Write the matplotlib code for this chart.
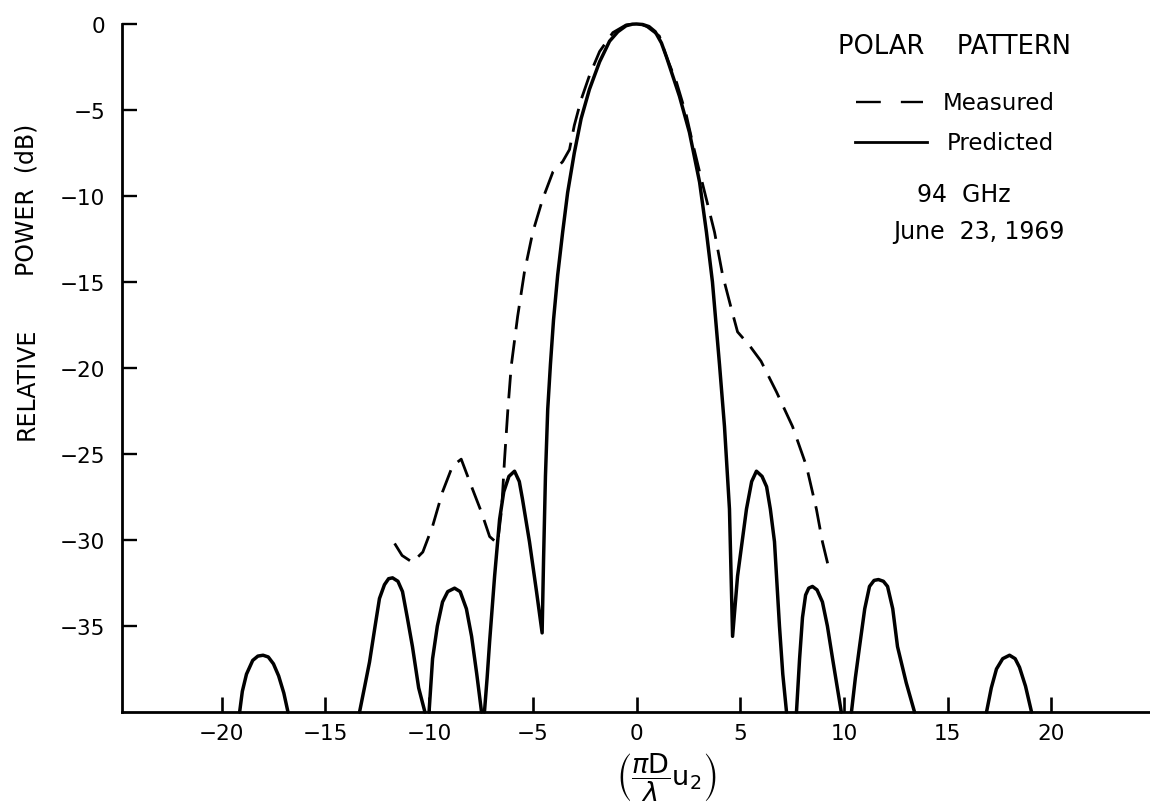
import numpy as np
import matplotlib
matplotlib.use("Agg")
import matplotlib.pyplot as plt

W, H = 1150, 803

# ---- data ----
# Predicted (solid): main lobe with first sidelobes
pred_main_x = [-7.33, -7.2, -7.08, -6.84, -6.6, -6.4, -6.15, -5.88, -5.65, -5.5, -5.16,
               -4.82, -4.55, -4.48, -4.39, -4.28, -4.15, -4.0, -3.8, -3.56, -3.32, -3.0,
               -2.67, -2.27, -1.78, -1.3, -0.9, -0.5, -0.2, 0.0, 0.3, 0.6, 0.9, 1.2,
               1.44, 2.07, 2.55, 3.04, 3.37, 3.66, 4.0, 4.24, 4.48, 4.63, 4.87, 5.3,
               5.55, 5.78, 6.05, 6.27, 6.45, 6.65, 6.89, 7.05, 7.23]
pred_main_y = [-40, -38.0, -35.9, -32.1, -28.8, -27.2, -26.3, -26.0, -26.6, -27.6, -30.1,
               -33.0, -35.4, -31.1, -26.3, -22.4, -19.8, -17.2, -14.6, -12.1, -9.8, -7.5,
               -5.5, -3.8, -2.2, -1.0, -0.45, -0.1, -0.01, 0.0, -0.03, -0.15, -0.45, -1.1,
               -1.9, -4.2, -6.3, -9.2, -12.1, -15.0, -19.8, -23.4, -28.2, -35.6, -32.1, -28.2,
               -26.6, -26.0, -26.3, -26.9, -28.2, -30.1, -35.0, -37.8, -40]

# Predicted (solid): outer sidelobes
lobe_l3_x = [-19.13, -19.0, -18.8, -18.5, -18.25, -18.0, -17.75, -17.5, -17.25, -17.0, -16.8]
lobe_l3_y = [-40, -38.8, -37.8, -37.0, -36.75, -36.7, -36.8, -37.2, -37.9, -38.9, -40]
lobe_l2_x = [-13.35, -13.1, -12.87, -12.6, -12.39, -12.15, -11.95, -11.76, -11.5, -11.28,
             -11.05, -10.8, -10.5, -10.2]
lobe_l2_y = [-40, -38.5, -37.1, -35.0, -33.4, -32.6, -32.25, -32.2, -32.4, -33.0,
             -34.5, -36.2, -38.6, -40]
lobe_l1_x = [-10.0, -9.83, -9.6, -9.35, -9.1, -8.77, -8.5, -8.2, -7.95, -7.7, -7.47]
lobe_l1_y = [-40, -36.9, -35.0, -33.6, -33.0, -32.8, -33.0, -34.0, -35.6, -37.8, -40]
lobe_r1_x = [7.71, 7.86, 8.0, 8.15, 8.3, 8.48, 8.7, 8.96, 9.2, 9.45, 9.87]
lobe_r1_y = [-40, -36.9, -34.5, -33.2, -32.8, -32.7, -32.9, -33.6, -35.0, -36.9, -40]
lobe_r2_x = [10.36, 10.55, 10.75, 11.0, 11.23, 11.45, 11.66, 11.9, 12.1, 12.35, 12.58,
             13.0, 13.4]
lobe_r2_y = [-40, -38.0, -36.2, -34.0, -32.7, -32.35, -32.3, -32.4, -32.7, -34.0, -36.2,
             -38.3, -40]
lobe_r3_x = [16.87, 17.1, 17.35, 17.65, 17.98, 18.25, 18.46, 18.75, 19.04]
lobe_r3_y = [-40, -38.6, -37.5, -36.9, -36.7, -36.9, -37.4, -38.5, -40]

# Measured (dashed)
meas_x = [-11.66, -11.3, -10.8, -10.3, -9.83, -9.35, -8.87, -8.45, -7.95, -7.47,
          -7.08, -6.7, -6.5, -6.36, -6.2, -6.04, -5.73, -5.4, -5.0, -4.53, -4.03,
          -3.56, -3.23, -3.0, -2.67, -2.27, -1.78, -1.14, -0.5, -0.2, 0.0, 0.25, 0.5,
          1.1, 1.44, 1.93, 2.4, 2.7, 3.04, 3.37, 3.76, 4.15, 4.58, 4.87, 5.45, 6.0,
          6.75, 7.52, 8.19, 8.67, 8.96, 9.3]
meas_y = [-30.2, -30.9, -31.3, -30.7, -29.2, -27.2, -25.7, -25.3, -26.9, -28.4,
          -29.8, -30.2, -28.2, -25.3, -22.4, -19.9, -17.0, -14.4, -12.1, -10.2,
          -8.6, -8.0, -7.3, -5.9, -4.4, -3.0, -1.6, -0.5, -0.05, -0.01, 0.0, -0.03, -0.15,
          -0.7, -1.9, -3.4, -5.3, -6.9, -8.6, -10.2, -12.1, -14.6, -16.6, -17.9, -18.7,
          -19.6, -21.4, -23.4, -25.7, -28.2, -30.1, -31.8]

x_ticks = [-20, -15, -10, -5, 0, 5, 10, 15, 20]
y_ticks = [0, -5, -10, -15, -20, -25, -30, -35]

title_text = "POLAR    PATTERN"
measured_label = "Measured"
predicted_label = "Predicted"
freq_text = "94  GHz"
date_text = "June  23, 1969"
ylabel_part1 = "RELATIVE"
ylabel_part2 = "POWER  (dB)"
xlabel_text = r"$\left(\dfrac{\pi\mathrm{D}}{\lambda}\mathrm{u}_2\right)$"

# ---- figure ----
plt.rcParams['font.family'] = ['DejaVu Sans']
plt.rcParams['mathtext.fontset'] = 'dejavusans'
fig = plt.figure(figsize=(W / 100, H / 100), dpi=100)
ax = fig.add_axes([122 / W, 1 - 713 / H, (W - 122) / W, (713 - 25) / H])
ax.set_xlim(-24.8, 24.75)
ax.set_ylim(-40, 0)

solid_kw = dict(color='black', lw=2.5, solid_capstyle='round', solid_joinstyle='round',
                clip_on=False)
ax.plot(pred_main_x, pred_main_y, **solid_kw)
for lx, ly in [(lobe_l3_x, lobe_l3_y), (lobe_l2_x, lobe_l2_y), (lobe_l1_x, lobe_l1_y),
               (lobe_r1_x, lobe_r1_y), (lobe_r2_x, lobe_r2_y), (lobe_r3_x, lobe_r3_y)]:
    ax.plot(lx, ly, **solid_kw)

ax.plot(meas_x, meas_y, color='black', lw=2.0, dashes=(8.5, 4), clip_on=False)

for s in ['top', 'right']:
    ax.spines[s].set_visible(False)
for s in ['left', 'bottom']:
    ax.spines[s].set_linewidth(2.0)

ax.set_xticks(x_ticks)
ax.set_xticklabels([str(v).replace('-', '\u2212') for v in x_ticks])
ax.set_yticks(y_ticks)
ax.set_yticklabels([str(v).replace('-', '\u2212') for v in y_ticks])
ax.tick_params(axis='x', direction='in', length=11, width=1.9, pad=8, labelsize=15.5)
ax.tick_params(axis='y', direction='in', length=11, width=1.7, pad=12, labelsize=15.5)

def fx(px):
    return px / W

def fy(py):
    return 1 - py / H

fig.text(fx(27), fy(384), ylabel_part1, rotation=90, ha='center', va='center', fontsize=17)
fig.text(fx(27), fy(200), ylabel_part2, rotation=90, ha='center', va='center', fontsize=17)
fig.text(fx(666), fy(778), xlabel_text, ha='center', va='center', fontsize=19.5)

fig.text(fx(955), fy(47), title_text, ha='center', va='center', fontsize=18.5)
fig.lines.append(plt.Line2D([fx(856), fx(923)], [fy(103), fy(103)], transform=fig.transFigure,
                            color='black', lw=1.7, dashes=(10.5, 8.5)))
fig.text(fx(943), fy(103), measured_label, ha='left', va='center', fontsize=16.5)
fig.lines.append(plt.Line2D([fx(855), fx(927)], [fy(143), fy(143)], transform=fig.transFigure,
                            color='black', lw=2.0))
fig.text(fx(947), fy(143), predicted_label, ha='left', va='center', fontsize=16.5)
fig.text(fx(964), fy(195), freq_text, ha='center', va='center', fontsize=17)
fig.text(fx(979), fy(232), date_text, ha='center', va='center', fontsize=17)

fig.savefig('out.png', dpi=100)
